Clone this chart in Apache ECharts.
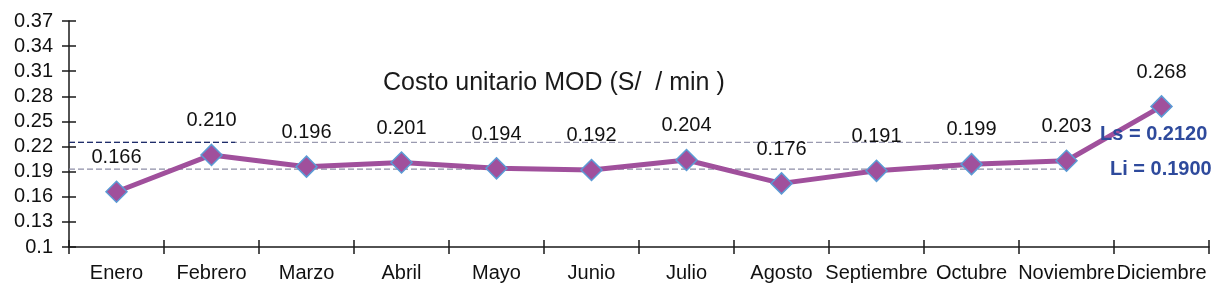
<!DOCTYPE html>
<html>
<head>
<meta charset="utf-8">
<script src="https://cdn.jsdelivr.net/npm/echarts@6/dist/echarts.min.js"></script>
<style>
  html, body { margin: 0; padding: 0; background: #fff; }
  #main { width: 1219px; height: 305px; }
</style>
</head>
<body>
<div id="main"></div>
<script>
// meses y costo unitario
var meses = ['Enero', 'Febrero', 'Marzo', 'Abril', 'Mayo', 'Junio', 'Julio', 'Agosto', 'Septiembre', 'Octubre', 'Noviembre', 'Diciembre'];
var costo = [0.166, 0.210, 0.196, 0.201, 0.194, 0.192, 0.204, 0.176, 0.191, 0.199, 0.203, 0.268];

// eje y
var yMin = 0.1;
var yMax = 0.37;
var yPaso = 0.03;

// limites (texto) y donde quedan dibujadas las lineas en el grafico
var limSup = '0.2120';
var limInf = '0.1900';
var lineaLs = [[0, 0.225], [10.5, 0.225]];
var lineaLsOscura = [[0, 0.225], [1.75, 0.225]];
var lineaLi = [[0, 0.193], [10.5, 0.193]];

var fuente = '"Liberation Sans", Arial, sans-serif';

function getOption() {
  var option = {
    animation: false,
    backgroundColor: '#fff',
    grid: {
      left: 69,
      right: 10,
      top: 21,
      bottom: 58
    },
    xAxis: [{
      type: 'category',
      data: meses,
      boundaryGap: true,
      axisLine: { lineStyle: { color: '#1a1a1a', width: 1.5 } },
      axisTick: { show: true, length: 7, lineStyle: { color: '#1a1a1a', width: 1.5 } },
      axisLabel: { interval: 0, color: '#111', fontSize: 20, fontFamily: fuente, margin: 16 }
    }, {
      // marcas hacia adentro
      type: 'category',
      data: meses,
      position: 'bottom',
      axisLine: { show: false },
      axisTick: { show: true, inside: true, length: 7, lineStyle: { color: '#1a1a1a', width: 1.5 } },
      axisLabel: { show: false }
    }, {
      type: 'value',
      min: 0,
      max: 12,
      show: false
    }],
    yAxis: [{
      type: 'value',
      position: 'left',
      min: yMin,
      max: yMax,
      interval: yPaso,
      axisLine: { show: true, lineStyle: { color: '#1a1a1a', width: 1.5 } },
      axisTick: { show: true, length: 7, lineStyle: { color: '#1a1a1a', width: 1.5 } },
      splitLine: { show: false },
      axisLabel: { color: '#111', fontSize: 20, fontFamily: fuente, margin: 16 }
    }, {
      type: 'value',
      position: 'left',
      min: yMin,
      max: yMax,
      interval: yPaso,
      axisLine: { show: false },
      axisTick: { show: true, inside: true, length: 7, lineStyle: { color: '#1a1a1a', width: 1.5 } },
      splitLine: { show: false },
      axisLabel: { show: false }
    }],
    graphic: [{
      type: 'text',
      left: 383,
      top: 71,
      style: { text: 'Costo unitario MOD (S/  / min )', font: '25px ' + fuente, fill: '#1a1a1a' }
    }, {
      type: 'text',
      left: 1100,
      top: 124,
      z: 100,
      style: { text: 'Ls = ' + limSup, font: 'bold 20px ' + fuente, fill: '#2e4a9c' }
    }, {
      type: 'text',
      left: 1110,
      top: 159,
      z: 100,
      style: { text: 'Li = ' + limInf, font: 'bold 20px ' + fuente, fill: '#2e4a9c' }
    }],
    series: [{
      type: 'line',
      xAxisIndex: 2,
      data: lineaLs,
      symbol: 'none',
      silent: true,
      z: 1,
      lineStyle: { color: '#9a9ab0', width: 1.3, type: [6, 3] }
    }, {
      type: 'line',
      xAxisIndex: 2,
      data: lineaLsOscura,
      symbol: 'none',
      silent: true,
      z: 1,
      lineStyle: { color: '#1f2d6b', width: 1.3, type: [6, 3] }
    }, {
      type: 'line',
      xAxisIndex: 2,
      data: lineaLi,
      symbol: 'none',
      silent: true,
      z: 1,
      lineStyle: { color: '#8d8da6', width: 1.3, type: [6, 3] }
    }, {
      type: 'line',
      xAxisIndex: 0,
      yAxisIndex: 0,
      data: costo,
      z: 5,
      symbol: 'diamond',
      symbolSize: 21,
      lineStyle: { color: '#a0509c', width: 5 },
      itemStyle: { color: '#a0509c', borderColor: '#5b9bd5', borderWidth: 1.5 },
      label: {
        show: true,
        position: 'top',
        distance: 13,
        color: '#111',
        fontSize: 20,
        fontFamily: fuente,
        formatter: function(p) {
          return p.value.toFixed(3);
        }
      }
    }]
  };
  return option;
}

var chart = echarts.init(document.getElementById('main'));
chart.setOption(getOption());
</script>
</body>
</html>
